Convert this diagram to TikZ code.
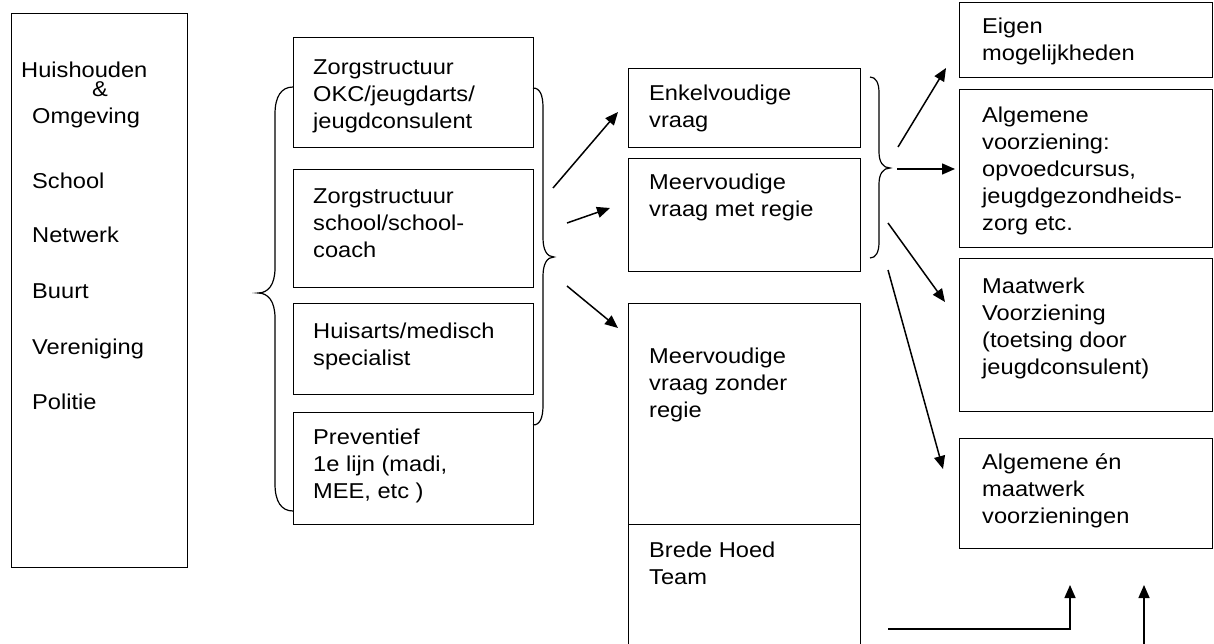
\documentclass[tikz,border=0pt]{standalone}
\usepackage{fontspec}
\setmainfont{Liberation Sans}[FakeStretch=1.1]
\usetikzlibrary{arrows.meta}
\begin{document}
\begin{tikzpicture}[x=1pt,y=-1pt,
  box/.style={draw, line width=1.3pt, inner sep=0pt, anchor=north west},
  txt/.style={font=\fontsize{21.5}{27}\selectfont, align=left, inner sep=0pt, anchor=base west},
  arr/.style={line width=1.5pt, -{Triangle[length=13pt,width=11pt]}},
  brace/.style={line width=1.2pt}]
\useasboundingbox (0,0) rectangle (1214,644);
\clip (0,0) rectangle (1214,644);
% left box
\node[box, minimum width=176pt, minimum height=554pt] (lb) at (11,13) {};
\node[txt] (l1) at (21,78) {Huishouden};
\node[txt] (l2) at (92,97) {\&};
\node[txt] (l3) at (32,124) {Omgeving};
\node[txt] (l4) at (32,189) {School};
\node[txt] (l5) at (32,243) {Netwerk};
\node[txt] (l6) at (32,298) {Buurt};
\node[txt] (l7) at (32,354) {Vereniging};
\node[txt] (l8) at (32,409) {Politie};
% column 2 (text anchors are the baselines of the last lines)
\node[box, minimum width=240pt, minimum height=110pt] (b1) at (293,37) {};
\node[box, minimum width=240pt, minimum height=118pt] (b2) at (293,169) {};
\node[box, minimum width=240pt, minimum height=91pt] (b3) at (293,303) {};
\node[box, minimum width=240pt, minimum height=112pt] (b4) at (293,412) {};
\node[txt] (tb1) at (313,129) {Zorgstructuur\\OKC/jeugdarts/\\jeugdconsulent};
\node[txt] (tb2) at (313,258) {Zorgstructuur\\school/school-\\coach};
\node[txt] (tb3) at (313,365) {Huisarts/medisch\\specialist};
\node[txt] (tb4) at (313,498) {Preventief\\1e lijn (madi,\\MEE, etc )};
% column 3
\node[box, minimum width=232pt, minimum height=79pt] (c1) at (628,68) {};
\node[box, minimum width=232pt, minimum height=113pt] (c2) at (628,158) {};
\node[box, minimum width=232pt, minimum height=221pt] (c3) at (628,303) {};
\node[box, minimum width=232pt, minimum height=140pt] (c4) at (628,524) {};
\node[txt] (tc1) at (649,128) {Enkelvoudige\\vraag};
\node[txt] (tc2) at (649,217) {Meervoudige\\vraag met regie};
\node[txt] (tc3) at (649,417) {Meervoudige\\vraag zonder\\regie};
\node[txt] (tc4) at (649,584) {Brede Hoed\\Team};
% column 4
\node[box, minimum width=253pt, minimum height=75pt] (d1) at (959,2) {};
\node[box, minimum width=253pt, minimum height=158pt] (d2) at (959,89) {};
\node[box, minimum width=253pt, minimum height=153pt] (d3) at (959,258) {};
\node[box, minimum width=253pt, minimum height=110pt] (d4) at (959,438) {};
\node[txt] (td1) at (982,61) {Eigen\\mogelijkheden};
\begin{scope}
\clip (959,89) rectangle (1212,235);
\node[txt] (td2) at (982,231) {Algemene\\voorziening:\\opvoedcursus,\\jeugdgezondheids-\\zorg etc.};
\end{scope}
\node[txt] (td3) at (982,374) {Maatwerk\\Voorziening\\(toetsing door\\jeugdconsulent)};
\node[txt] (td4) at (982,523) {Algemene én\\maatwerk\\voorzieningen};
% braces
\draw[brace] (293,87) .. controls (281,87) and (275,97) .. (275,114) -- (275,268)
  .. controls (275,285) and (268,293) .. (258,293)
  .. controls (268,293) and (275,301) .. (275,318) -- (275,484)
  .. controls (275,501) and (281,511) .. (293,511);
\draw[brace] (533,88) .. controls (540,88) and (543,95) .. (543,108) -- (543,238)
  .. controls (543,250) and (547,257) .. (554,257)
  .. controls (547,257) and (543,264) .. (543,276) -- (543,405)
  .. controls (543,418) and (540,425) .. (533,425);
\draw[brace] (870,77) .. controls (876,77) and (879,83) .. (879,93) -- (879,152)
  .. controls (879,162) and (883,168) .. (890,168)
  .. controls (883,168) and (879,174) .. (879,184) -- (879,242)
  .. controls (879,252) and (876,258) .. (870,258);
% arrows column 2 -> 3
\coordinate (s1) at (553,188); \coordinate (e1) at (618,112);
\coordinate (s2) at (567,223); \coordinate (e2) at (610,208);
\coordinate (s3) at (567,286); \coordinate (e3) at (618,328);
\draw[arr] (s1) -- (e1);
\draw[arr] (s2) -- (e2);
\draw[arr] (s3) -- (e3);
% arrows column 3 -> 4
\coordinate (sa) at (898,147); \coordinate (ea) at (946,68);
\coordinate (sb) at (897,169); \coordinate (eb) at (955,169);
\coordinate (sc) at (888,223); \coordinate (ec) at (945,302);
\coordinate (sd) at (888,270); \coordinate (ed) at (943,469);
\draw[arr] (sa) -- (ea);
\draw[arr] (sb) -- (eb);
\draw[arr] (sc) -- (ec);
\draw[arr] (sd) -- (ed);
% bottom arrows
\coordinate (h1) at (888,629); \coordinate (h2) at (1070,585);
\coordinate (v1) at (1144,650); \coordinate (v2) at (1144,585);
\draw[arr] (h1) -| (h2);
\draw[arr] (v1) -- (v2);
\end{tikzpicture}
\end{document}
